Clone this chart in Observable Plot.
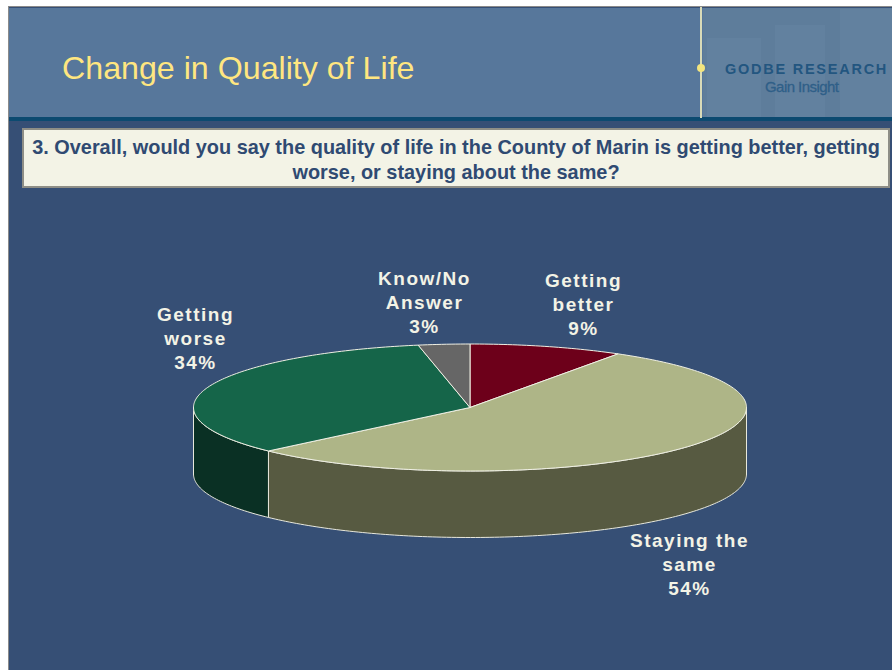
<!DOCTYPE html>
<html><head><meta charset="utf-8">
<script src="https://cdn.jsdelivr.net/npm/d3@7"></script>
<script src="https://cdn.jsdelivr.net/npm/@observablehq/plot@0.6"></script>
<style>
html,body{margin:0;padding:0;background:#fff;width:892px;height:670px;overflow:hidden;font-family:"Liberation Sans",Arial,sans-serif}
#slide{position:absolute;left:8px;top:6px;width:884px;height:664px;background:#364F75;border-left:1.5px solid #8a8a8a;border-top:1.5px solid #8a8a8a;box-sizing:border-box}
.abs{position:absolute}
#head{left:9px;top:8px;width:883px;height:109px;background:#57779B}
#band{left:9px;top:117px;width:883px;height:4px;background:#0C4A70}
#panel{left:703px;top:8px;width:189px;height:109px;background:#5E7D9B}
.b{background:#6888A6;opacity:.4}
#vline{left:700px;top:7px;width:2px;height:111px;background:#D9DBB8}
#dot{left:697px;top:64px;width:8px;height:8px;border-radius:50%;background:#F3E57E}
#title{left:62px;top:49px;font-size:32.2px;line-height:38px;color:#FFE680;white-space:nowrap}
#logo1{left:725px;top:60px;font-size:14.5px;line-height:18px;font-weight:bold;letter-spacing:1.75px;color:#235680;white-space:nowrap}
#logo2{left:765px;top:78px;font-size:15px;line-height:18px;color:#2F5F88;white-space:nowrap;letter-spacing:-.55px;-webkit-text-stroke:.3px #2F5F88}
#q{left:22px;top:128px;width:868px;height:60px;box-sizing:border-box;background:#F3F3E6;border:2px solid #8e8e86;color:#2F4A72;font-weight:bold;font-size:19.9px;line-height:25px;text-align:center;padding:5px 0 0 0}
svg{position:absolute;left:0;top:0}
</style></head><body>
<div id="slide"></div>
<div class="abs" id="head"></div>
<div class="abs" id="panel"></div>
<div class="abs b" style="left:707px;top:38px;width:54px;height:79px"></div>
<div class="abs b" style="left:775px;top:25px;width:50px;height:92px"></div>
<div class="abs b" style="left:840px;top:9px;width:52px;height:108px"></div>
<div class="abs" id="band"></div>
<div class="abs" id="vline"></div>
<div class="abs" id="dot"></div>
<div class="abs" id="title">Change in Quality of Life</div>
<div class="abs" id="logo1">GODBE RESEARCH</div>
<div class="abs" id="logo2">Gain Insight</div>
<div class="abs" id="q">3. Overall, would you say the quality of life in the County of Marin is getting better, getting worse, or staying about the same?</div>
<script>
const categories = ["Getting better", "Staying the same", "Getting worse", "Know/No Answer"];
const values = [9, 54, 34, 3];
const labels = ["Getting\nbetter\n9%", "Staying the\nsame\n54%", "Getting\nworse\n34%", "Know/No\nAnswer\n3%"];
const topColors = ["#6D001A", "#AEB587", "#156549", "#666666"];
const sideColors = ["#3A000E", "#575A41", "#0A3024", "#333333"];

// Ellipse layout in pixels
const cx = 469.5, cy = 407, rx = 276.5, ry = 63.5, depth = 66.5;
const lx = [583, 689, 195, 424], ly = [303, 563, 337, 301];
const X = px => (px - cx) / rx, Y = py => (cy - py) / ry;
const total = d3.sum(values);
const pt = deg => { const r = deg * Math.PI / 180; return {x: Math.sin(r), y: Math.cos(r)}; };
const arc = (a, b) => { const n = Math.max(2, Math.ceil(Math.abs(b - a))); return d3.range(n + 1).map(i => pt(a + (b - a) * i / n)); };

let acc = 0;
const slices = values.map((v, i) => { const a = acc / total * 360; acc += v; return {a, b: acc / total * 360, i}; });

const marks = [];
// side walls (front half of the disc only)
for (const s of slices) {
  const a = Math.max(s.a, 90), b = Math.min(s.b, 270);
  if (b <= a) continue;
  const front = arc(a, b);
  const d = depth / ry;
  const poly = [...front, ...front.slice().reverse().map(p => ({x: p.x, y: p.y - d})), front[0]];
  marks.push(Plot.line(poly, {x: "x", y: "y", fill: sideColors[s.i], stroke: "#E8E8DC", strokeWidth: 1, curve: "linear"}));
}
// top faces
for (const s of slices) {
  const poly = [{x: 0, y: 0}, ...arc(s.a, s.b), {x: 0, y: 0}];
  marks.push(Plot.line(poly, {x: "x", y: "y", fill: topColors[s.i], stroke: "#F0F0E4", strokeWidth: 1, curve: "linear"}));
}
marks.push(Plot.text(categories.map((c, i) => ({c, t: labels[i], x: X(lx[i]), y: Y(ly[i])})), {
  x: "x", y: "y", text: "t", fontSize: 19, fontWeight: "bold", fill: "#F3F3E6", lineHeight: 1.27, textAnchor: "middle"
}));

const svg = Plot.plot({
  width: 892, height: 670, margin: 0,
  x: {domain: [-1, 1], range: [cx - rx, cx + rx], axis: null},
  y: {domain: [-1, 1], range: [cy + ry, cy - ry], axis: null},
  style: {background: "transparent", fontFamily: "'Liberation Sans',Arial,sans-serif", letterSpacing: "1.5px"},
  marks
});
svg.style.maxWidth = "none";
document.body.appendChild(svg);
</script>
</body></html>
